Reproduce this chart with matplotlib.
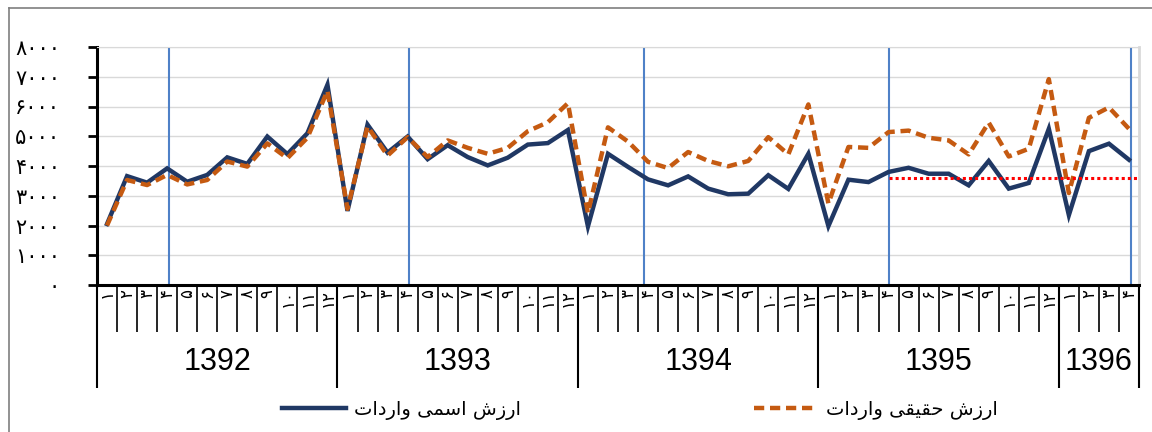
import numpy as np
import matplotlib.pyplot as plt
from matplotlib.lines import Line2D

# data (monthly imports, 1392 -> 1396)
years = ['1392', '1393', '1394', '1395', '1396']
months_per_year = [12, 12, 12, 12, 4]

nominal = [2050, 3660, 3440, 3920, 3470, 3700, 4290, 4070, 4990, 4400, 5100, 6730,
           2490, 5390, 4450, 4990, 4230, 4700, 4300, 4020, 4280, 4720, 4770, 5210,
           1970, 4410, 3970, 3550, 3350, 3650, 3240, 3050, 3070, 3690, 3230, 4410,
           1980, 3540, 3460, 3800, 3940, 3740, 3740, 3350, 4170, 3240, 3430, 5250,
           2350, 4500, 4750, 4210]
real = [2000, 3530, 3360, 3700, 3380, 3530, 4150, 3980, 4760, 4260, 4950, 6530,
        2560, 5330, 4350, 4970, 4300, 4860, 4610, 4410, 4610, 5170, 5470, 6110,
        2420, 5300, 4820, 4140, 3930, 4470, 4170, 3990, 4170, 4970, 4390, 6070,
        2740, 4640, 4610, 5140, 5190, 4950, 4860, 4390, 5460, 4320, 4580, 6920,
        3090, 5620, 5970, 5250]
ref_level = 3600  # red dotted line over 1395-1396

# legend labels, Persian written in visual order with presentation forms
# (matplotlib does no Arabic shaping): "ارزش اسمی واردات" / "ارزش حقیقی واردات"
label_nominal = '\uFE95\uFE8D\uFEA9\uFEAD\uFE8D\uFEED \uFEF0\uFEE4\uFEB3\uFE8D \uFEB5\uFEAF\uFEAD\uFE8D'
label_real = '\uFE95\uFE8D\uFEA9\uFEAD\uFE8D\uFEED \uFEF0\uFED8\uFEF4\uFED8\uFEA3 \uFEB5\uFEAF\uFEAD\uFE8D'

fa_digits = '۰۱۲۳۴۵۶۷۸۹'


def fa(n):
    return ''.join(fa_digits[int(c)] for c in str(n))


month_labels = [fa(m) for n in months_per_year for m in range(1, n + 1)]
x = np.arange(len(nominal))
bounds = np.concatenate([[0], np.cumsum(months_per_year)]) - 0.5
centers = (bounds[:-1] + bounds[1:]) / 2
vlines = [3.1, 15.05, 26.8, 39.0, 51.1]

plt.rcParams['font.family'] = ['DejaVu Sans']
fig = plt.figure(figsize=(11.52, 4.32), dpi=100)
ax = fig.add_axes([97/1152, 1 - 285/432, (1139-97)/1152, (285-47)/432])

ax.plot(x, nominal, color='#203864', lw=3.2, solid_joinstyle='miter', label=label_nominal, zorder=3)
ax.plot(x, real, color='#C55A11', lw=3.2, dashes=(2.3, 1.3), label=label_real, zorder=4)
ax.hlines(ref_level, 39, 51.5, colors='#FF0000', lw=2.2, linestyles=(0, (1, 1)), zorder=5)
for v in vlines:
    ax.axvline(v, color='#4F81C7', lw=1.5, zorder=2)

ax.set_ylim(0, 8000)
ax.set_xlim(-0.5, 51.5)
ax.set_yticks(np.arange(0, 8001, 1000), labels=[fa(v) for v in range(0, 8001, 1000)])
ax.yaxis.grid(True, color='#d9d9d9', lw=1)
ax.set_axisbelow(True)
ax.tick_params(axis='y', length=6.5, width=2, pad=20, labelsize=15)

ax.set_xticks(x, labels=month_labels, rotation=90, va='top')
ax.set_xticks(np.arange(len(x) + 1) - 0.5, minor=True)
ax.tick_params(axis='x', which='major', length=0, pad=3, labelsize=12)
ax.tick_params(axis='x', which='minor', length=34, width=1.2)

for s in ['left', 'bottom']:
    ax.spines[s].set_linewidth(2.2)
ax.spines['top'].set_color('#d9d9d9')
ax.spines['right'].set_color('#d9d9d9')
ax.spines['right'].set_linewidth(2)

sec = ax.secondary_xaxis('bottom')
sec.spines['bottom'].set_visible(False)
sec.set_xticks(bounds, labels=[''] * len(bounds))
sec.set_xticks(centers, labels=years, minor=True)
sec.tick_params(which='major', length=74, width=1.5)
sec.tick_params(which='minor', length=0, pad=45, labelsize=22)
for t in sec.get_xticklabels(minor=True):
    t.set_fontfamily('Liberation Sans')

leg = fig.legend(loc='center', bbox_to_anchor=(640/1152, 1 - 410/432), ncol=2, frameon=False,
                 fontsize=14, handlelength=3.3, columnspacing=12, handletextpad=0.4)

# outer chart frame (top and left edges visible)
fig.add_artist(Line2D([9/1152, 1], [1 - 8/432] * 2, color='#7f7f7f', lw=1.2))
fig.add_artist(Line2D([9/1152] * 2, [0, 1 - 8/432], color='#7f7f7f', lw=1.2))

fig.savefig('out.png', dpi=100)
